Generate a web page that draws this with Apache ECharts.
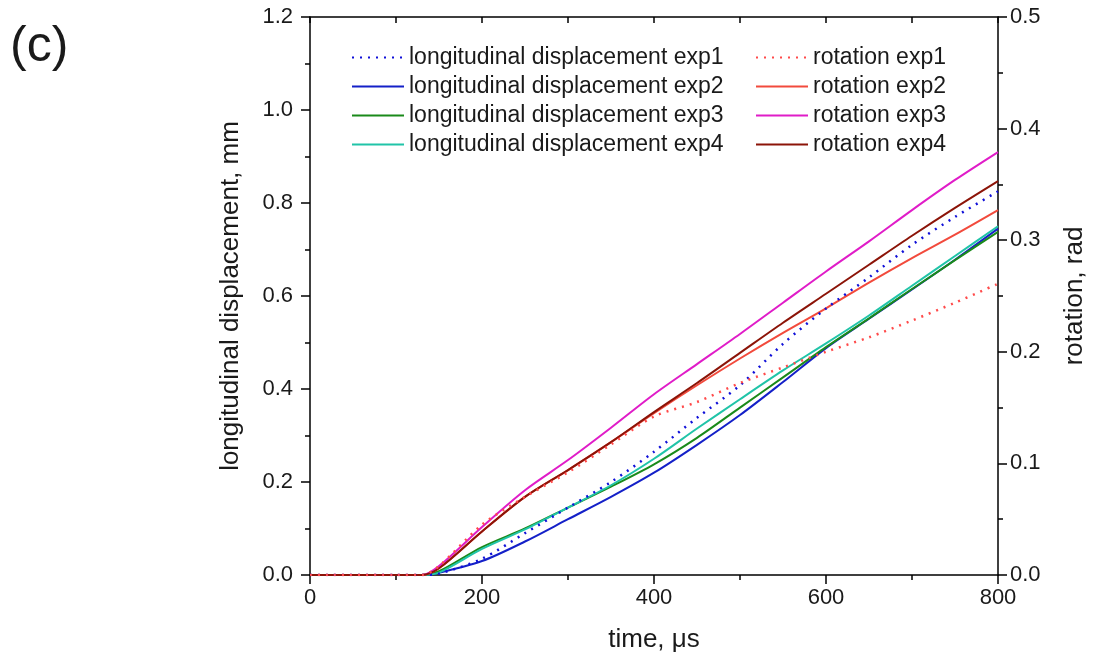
<!DOCTYPE html>
<html>
<head>
<meta charset="utf-8">
<script src="https://cdn.jsdelivr.net/npm/echarts@6/dist/echarts.min.js"></script>
<style>
  html, body { margin: 0; padding: 0; background: #fff; }
  #chart { width: 1112px; height: 667px; }
</style>
</head>
<body>
<div id="chart"></div>
<script>
// time points, us
var time = [0, 100, 130, 150, 200, 250, 300, 350, 400, 450, 500, 550, 600, 650, 700, 750, 800];

// longitudinal displacement, mm
var longExp1 = [0, 0, 0, 0.003, 0.035, 0.09, 0.145, 0.2, 0.265, 0.338, 0.408, 0.497, 0.573, 0.64, 0.71, 0.77, 0.825];
var longExp2 = [0, 0, 0, 0.005, 0.03, 0.072, 0.12, 0.168, 0.22, 0.28, 0.344, 0.415, 0.488, 0.551, 0.614, 0.678, 0.745];
var longExp3 = [0, 0, 0, 0.008, 0.06, 0.1, 0.145, 0.19, 0.238, 0.295, 0.36, 0.425, 0.49, 0.552, 0.615, 0.677, 0.738];
var longExp4 = [0, 0, 0, 0.005, 0.056, 0.098, 0.145, 0.193, 0.25, 0.315, 0.378, 0.44, 0.498, 0.558, 0.622, 0.686, 0.75];

// rotation, rad
var rotExp1 = [0, 0, 0, 0.008, 0.045, 0.07, 0.092, 0.117, 0.142, 0.155, 0.172, 0.186, 0.2, 0.213, 0.228, 0.244, 0.261];
var rotExp2 = [0, 0, 0, 0.006, 0.039, 0.07, 0.094, 0.119, 0.145, 0.17, 0.194, 0.217, 0.239, 0.262, 0.284, 0.305, 0.327];
var rotExp3 = [0, 0, 0, 0.008, 0.043, 0.076, 0.103, 0.132, 0.162, 0.189, 0.216, 0.244, 0.272, 0.299, 0.327, 0.354, 0.379];
var rotExp4 = [0, 0, 0, 0.006, 0.039, 0.07, 0.094, 0.119, 0.146, 0.172, 0.199, 0.226, 0.252, 0.278, 0.304, 0.329, 0.353];

function pairs(vals) {
    return time.map(function(t, i) { return [t, vals[i]]; });
}

function line(name, vals, color, yIdx, dotted) {
    return {
        name: name,
        type: 'line',
        yAxisIndex: yIdx,
        data: pairs(vals),
        symbol: 'none',
        smooth: 0.3,
        color: color,
        lineStyle: {
            color: color,
            width: dotted ? 2.5 : 2,
            type: dotted ? [2, 6] : 'solid'
        },
        z: dotted ? 3 : 2
    };
}

var textCol = '#1a1a1a';
var font = 'Liberation Sans, Arial, sans-serif';

var chart = echarts.init(document.getElementById('chart'));
chart.setOption({
    backgroundColor: '#fff',
    animation: false,
    textStyle: { fontFamily: font },
    graphic: [{
        type: 'text',
        left: 10,
        top: 22,
        style: { text: '(c)', font: '50px ' + font, fill: textCol }
    }],
    grid: { left: 310, right: 114, top: 17, bottom: 92 },
    legend: [{
        orient: 'vertical',
        left: 346,
        top: 41,
        itemWidth: 52,
        itemHeight: 14,
        itemGap: 6,
        itemStyle: { opacity: 0 },
        textStyle: { fontSize: 23, color: textCol, fontFamily: font },
        data: ['longitudinal displacement exp1', 'longitudinal displacement exp2',
               'longitudinal displacement exp3', 'longitudinal displacement exp4']
    }, {
        orient: 'vertical',
        left: 750,
        top: 41,
        itemWidth: 52,
        itemHeight: 14,
        itemGap: 6,
        itemStyle: { opacity: 0 },
        textStyle: { fontSize: 23, color: textCol, fontFamily: font },
        data: ['rotation exp1', 'rotation exp2', 'rotation exp3', 'rotation exp4']
    }],
    xAxis: [{
        type: 'value',
        position: 'bottom',
        min: 0,
        max: 800,
        interval: 200,
        name: 'time, μs',
        nameLocation: 'middle',
        nameGap: 52,
        nameTextStyle: { fontSize: 26, color: textCol },
        axisLine: { show: true, onZero: false, lineStyle: { color: '#000', width: 1.5 } },
        axisTick: { show: true, inside: false, length: 9, lineStyle: { color: '#000', width: 1.5 } },
        minorTick: { show: true, splitNumber: 2, length: 5, lineStyle: { color: '#000', width: 1.5 } },
        axisLabel: { fontSize: 22, color: textCol, margin: 12 },
        splitLine: { show: false }
    }, {
        type: 'value',
        position: 'top',
        min: 0,
        max: 800,
        interval: 100,
        axisLine: { show: true, onZero: false, lineStyle: { color: '#000', width: 1.5 } },
        axisTick: { show: true, inside: true, length: 6, lineStyle: { color: '#000', width: 1.5 } },
        axisLabel: { show: false },
        splitLine: { show: false }
    }],
    yAxis: [{
        type: 'value',
        position: 'left',
        min: 0,
        max: 1.2,
        interval: 0.2,
        name: 'longitudinal displacement, mm',
        nameLocation: 'middle',
        nameGap: 66,
        nameTextStyle: { fontSize: 26, color: textCol },
        axisLine: { show: true, onZero: false, lineStyle: { color: '#000', width: 1.5 } },
        axisTick: { show: true, inside: false, length: 9, lineStyle: { color: '#000', width: 1.5 } },
        minorTick: { show: true, splitNumber: 2, length: 5, lineStyle: { color: '#000', width: 1.5 } },
        axisLabel: {
            fontSize: 22, color: textCol, margin: 17,
            formatter: function(v) { return v.toFixed(1); }
        },
        splitLine: { show: false }
    }, {
        type: 'value',
        position: 'right',
        min: 0,
        max: 0.5,
        interval: 0.1,
        name: 'rotation, rad',
        nameLocation: 'middle',
        nameGap: 64,
        nameRotate: 90,
        nameTextStyle: { fontSize: 26, color: textCol },
        axisLine: { show: true, onZero: false, lineStyle: { color: '#000', width: 1.5 } },
        axisTick: { show: true, inside: false, length: 9, lineStyle: { color: '#000', width: 1.5 } },
        minorTick: { show: true, splitNumber: 2, length: 5, lineStyle: { color: '#000', width: 1.5 } },
        axisLabel: {
            fontSize: 22, color: textCol, margin: 12,
            formatter: function(v) { return v.toFixed(1); }
        },
        splitLine: { show: false }
    }],
    series: [
        line('longitudinal displacement exp1', longExp1, '#1010d8', 0, true),
        line('longitudinal displacement exp2', longExp2, '#1420c8', 0, false),
        line('longitudinal displacement exp3', longExp3, '#1a8a1a', 0, false),
        line('longitudinal displacement exp4', longExp4, '#20c4a8', 0, false),
        line('rotation exp1', rotExp1, '#ff4a4a', 1, true),
        line('rotation exp2', rotExp2, '#f24a3c', 1, false),
        line('rotation exp3', rotExp3, '#e01cc8', 1, false),
        line('rotation exp4', rotExp4, '#8c1408', 1, false)
    ]
});
</script>
</body>
</html>
